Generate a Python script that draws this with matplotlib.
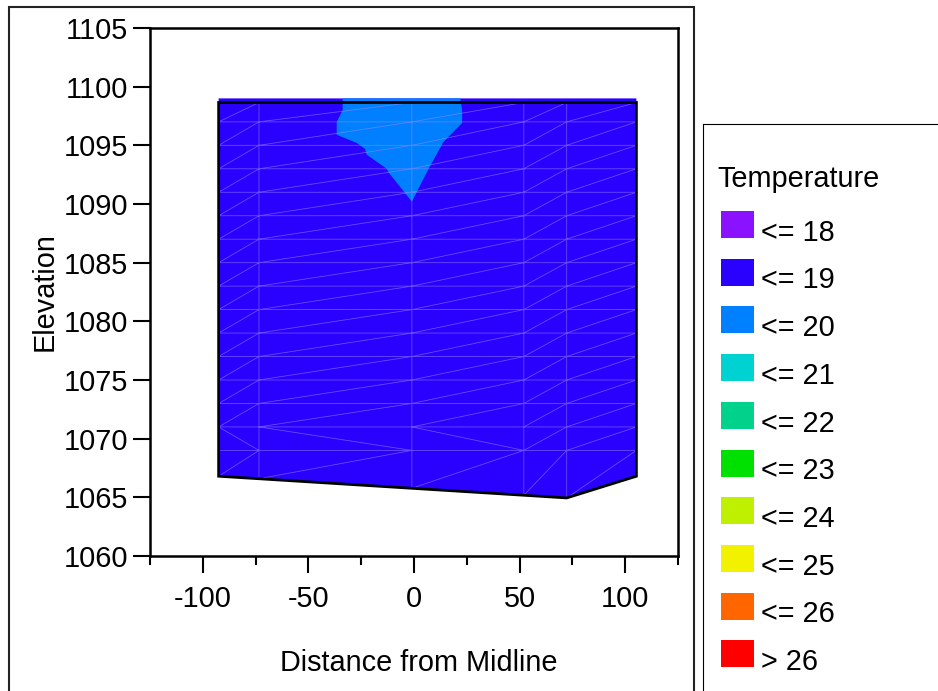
import numpy as np
import matplotlib
matplotlib.use("Agg")
import matplotlib.pyplot as plt
import matplotlib.tri as mtri
from matplotlib.patches import Rectangle
from matplotlib.lines import Line2D

plt.rcParams['font.family'] = ['Liberation Sans', 'DejaVu Sans']
plt.rcParams['axes.unicode_minus'] = False

# temperature classes
temp_labels = ['<= 18', '<= 19', '<= 20', '<= 21', '<= 22',
               '<= 23', '<= 24', '<= 25', '<= 26', '> 26']
temp_colors = ['#8a12ff', '#2a00ff', '#0080ff', '#00d2d2', '#00d28c',
               '#00e000', '#bff000', '#f2f200', '#ff6600', '#ff0000']

# section outline (distance, elevation)
section_x = [-92.5, 105.3, 105.3, 72.3, -92.5]
section_y = [1098.65, 1098.65, 1066.8, 1064.95, 1066.8]
surface_elev = 1099.0

# warmer zone (<= 20) near the surface
zone20_x = [-33.8, -33.8, -36.6, -36.6, -27.1, -23.2, -22.4, -12.9, -12.1,
            -1.0, 6.9, 14.0, 22.8, 22.8, 21.9]
zone20_y = [1099.0, 1098.0, 1097.0, 1095.9, 1095.2, 1094.7, 1094.2, 1093.0,
            1092.7, 1090.2, 1093.0, 1095.3, 1096.9, 1098.0, 1099.0]

# model mesh
mesh_cols = [-92.5, -73.4, -1.0, 52.0, 72.3, 105.3]
mesh_rows = [1098.65, 1097, 1095, 1093, 1091, 1089, 1087, 1085, 1083,
             1081, 1079, 1077, 1075, 1073, 1071, 1069]

FS = 20.8
W, H = 938, 691
fig = plt.figure(figsize=(W / 100, H / 100), dpi=100)

def fx(p):
    return p / W

def fy(p):
    return 1 - p / H

ax = fig.add_axes([fx(150), fy(556), 528 / W, 528 / H])

# body of the section, colder class
body_x = [section_x[0], section_x[1]] + section_x[2:]
body_y = [surface_elev, surface_elev] + section_y[2:]
ax.fill(body_x, body_y, color=temp_colors[1], lw=0, zorder=1)
ax.fill(zone20_x, zone20_y, color=temp_colors[2], lw=0, zorder=2)

# mesh nodes, bottom row follows the outline
bottom = np.interp(mesh_cols, section_x[2:][::-1], section_y[2:][::-1])
rows = [[y] * len(mesh_cols) for y in mesh_rows] + [list(bottom)]
X = np.array([mesh_cols] * len(rows)).ravel()
Y = np.array(rows).ravel()
nc = len(mesh_cols)
tris = []
for i in range(len(rows) - 1):
    for j in range(nc - 1):
        tl, tr = i * nc + j, i * nc + j + 1
        bl, br = (i + 1) * nc + j, (i + 1) * nc + j + 1
        if rows[i][0] == 1071 and j < 3:
            tris += [[tl, bl, br], [tl, br, tr]]
        else:
            tris += [[tl, bl, tr], [bl, br, tr]]
mesh = mtri.Triangulation(X, Y, tris)
ax.triplot(mesh, color='#9a8cff', lw=0.6, alpha=0.55, zorder=3)

# outline
ax.fill(section_x, section_y, fill=False, ec='black', lw=2, zorder=4)

ax.set_xlim(-125, 125)
ax.set_ylim(1060, 1105)
ax.set_xticks([-100, -50, 0, 50, 100])
ax.set_xticks([-125, -75, -25, 25, 75, 125], minor=True)
ax.set_yticks(np.arange(1060, 1106, 5))
ax.tick_params(axis='both', which='major', direction='out', length=12,
               width=1.5, labelsize=FS, colors='black')
ax.tick_params(axis='x', which='major', pad=9)
ax.tick_params(axis='y', which='major', pad=3.6)
ax.tick_params(axis='x', which='minor', direction='out', length=6.5, width=1.5)
for s in ax.spines.values():
    s.set_linewidth(1.8)

ax.set_xlabel('Distance from Midline', fontsize=FS)
ax.xaxis.set_label_coords((419 - 150) / 528, (556 - 670.7) / 528)
ax.xaxis.label.set_va('baseline')
ax.set_ylabel('Elevation', fontsize=FS)
ax.yaxis.set_label_coords((53 - 150) / 528, 0.5)
ax.yaxis.label.set_va('baseline')

# outer frame around the plot
fig.add_artist(Rectangle((fx(9), -0.05), (694 - 9) / W, fy(7) + 0.05,
                         fill=False, ec='#222222', lw=1.5,
                         transform=fig.transFigure))

# legend panel
fig.add_artist(Line2D([fx(703), fx(703)], [fy(124), -0.01], color='black',
                      lw=0.8, transform=fig.transFigure))
fig.add_artist(Line2D([fx(703), 1.01], [fy(124), fy(124)], color='black',
                      lw=0.8, transform=fig.transFigure))
fig.text(fx(717), fy(187.3), 'Temperature', fontsize=FS, va='baseline')
for i, (lab, col) in enumerate(zip(temp_labels, temp_colors)):
    top = 211 + 47.7 * i
    fig.add_artist(Rectangle((fx(721), fy(top + 27)), 33 / W, 27 / H,
                             color=col, lw=0, transform=fig.transFigure))
    fig.text(fx(761), fy(240.7 + 47.7 * i), lab, fontsize=FS, va='baseline')

fig.savefig('out.png', dpi=100)
